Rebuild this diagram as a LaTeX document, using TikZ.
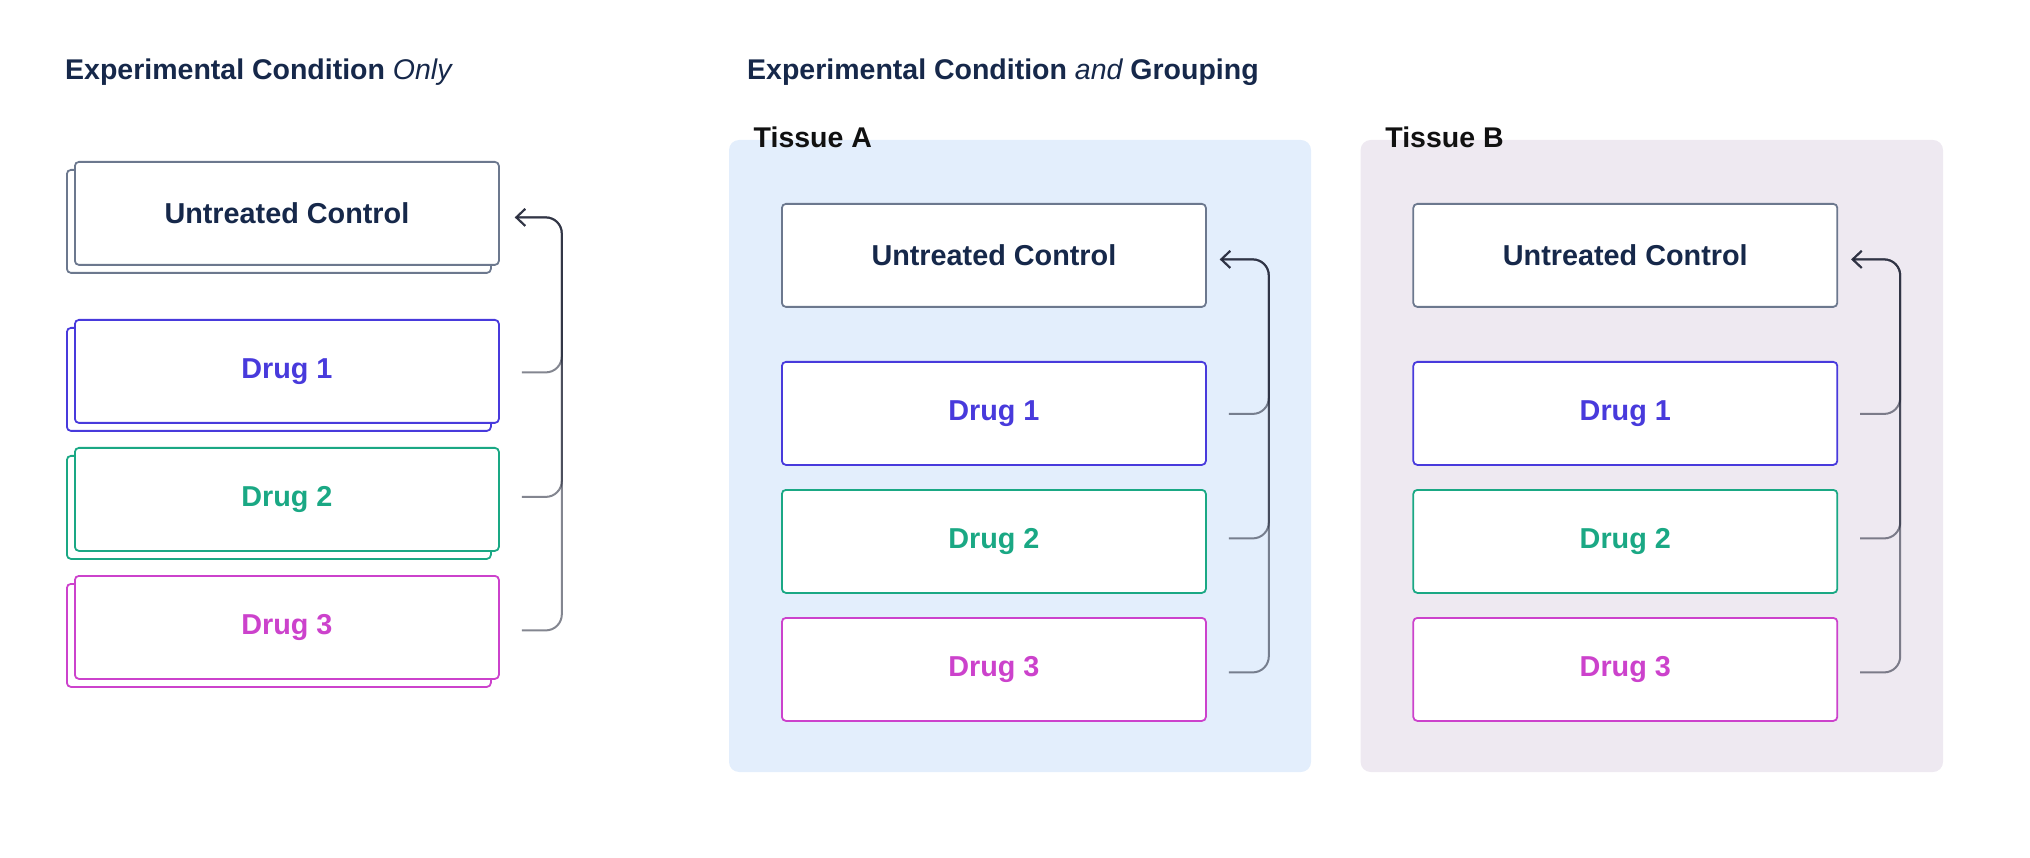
\documentclass[tikz,border=0pt]{standalone}
\usepackage{fontspec}
\setmainfont{Liberation Sans}
\usetikzlibrary{arrows.meta}
\definecolor{navy}{RGB}{22,40,74}
\definecolor{slate}{RGB}{108,120,142}
\definecolor{dblue}{RGB}{72,58,220}
\definecolor{dgreen}{RGB}{26,168,132}
\definecolor{dpink}{RGB}{204,66,204}
\definecolor{tissA}{RGB}{227,238,252}
\definecolor{tissB}{RGB}{238,233,241}
\definecolor{conn}{RGB}{30,34,52}
\definecolor{labelblack}{RGB}{17,17,17}
\begin{document}
\begin{tikzpicture}[x=1pt,y=-1pt,
  card/.style={draw=#1, text=#1, line width=1.8pt, fill=white, rounded corners=4pt,
    minimum width=424pt, minimum height=103pt, inner sep=0pt, anchor=north west,
    font=\fontsize{28.8}{30}\selectfont\bfseries},
  ctrl/.style={card=slate, text=navy},
  title/.style={anchor=base west, text=navy, inner sep=0pt, font=\fontsize{28.5}{30}\selectfont\bfseries},
  tlabel/.style={anchor=base west, text=labelblack, inner sep=0pt, font=\fontsize{28.5}{30}\selectfont\bfseries},
  panel/.style={rounded corners=10pt},
  wire/.style={draw=conn, draw opacity=0.55, line width=2pt, rounded corners=16pt,
    arrows={-Straight Barb[length=9pt,width=17pt]}}
]
\useasboundingbox (0,0) rectangle (2030,858);

% ---------- titles ----------
\node[title] (title1) at (65,80) {Experimental Condition {\mdseries\itshape Only}};
\node[title] (title2) at (747,80) {Experimental Condition {\mdseries\itshape and} Grouping};

% ---------- left column (stacked cards) ----------
\node[card=slate] (lucb) at (66,169) {};
\node[ctrl] (luc) at (74,161) {Untreated Control};
\node[card=dblue] (ld1b) at (66,327) {};
\node[card=dblue] (ld1) at (74,319) {Drug 1};
\node[card=dgreen] (ld2b) at (66,455) {};
\node[card=dgreen] (ld2) at (74,447) {Drug 2};
\node[card=dpink] (ld3b) at (66,583) {};
\node[card=dpink] (ld3) at (74,575) {Drug 3};

\draw[wire] ([xshift=22pt,yshift=-1pt]ld1.east) -| ([xshift=62pt,yshift=-4pt]luc.east) -- ([xshift=15pt,yshift=-4pt]luc.east);
\draw[wire] ([xshift=22pt,yshift=2.5pt]ld2.east) -| ([xshift=62pt,yshift=-4pt]luc.east) -- ([xshift=15pt,yshift=-4pt]luc.east);
\draw[wire] ([xshift=22pt,yshift=-3pt]ld3.east) -| ([xshift=62pt,yshift=-4pt]luc.east) -- ([xshift=15pt,yshift=-4pt]luc.east);

% ---------- Tissue A ----------
\fill[tissA, panel] (729,140) rectangle (1311,772);
\node[tlabel] (tA) at (753.5,147.6) {Tissue A};
\node[ctrl] (auc) at (781,203) {Untreated Control};
\node[card=dblue] (ad1) at (781,361) {Drug 1};
\node[card=dgreen] (ad2) at (781,489) {Drug 2};
\node[card=dpink] (ad3) at (781,617) {Drug 3};

\draw[wire] ([xshift=22pt,yshift=-0.5pt]ad1.east) -| ([xshift=62pt,yshift=-4pt]auc.east) -- ([xshift=13pt,yshift=-4pt]auc.east);
\draw[wire] ([xshift=22pt,yshift=3pt]ad2.east) -| ([xshift=62pt,yshift=-4pt]auc.east) -- ([xshift=13pt,yshift=-4pt]auc.east);
\draw[wire] ([xshift=22pt,yshift=-3pt]ad3.east) -| ([xshift=62pt,yshift=-4pt]auc.east) -- ([xshift=13pt,yshift=-4pt]auc.east);

% ---------- Tissue B ----------
\fill[tissB, panel] (1360.6,140) rectangle (1943,772);
\node[tlabel] (tB) at (1385.2,147.6) {Tissue B};
\node[ctrl] (buc) at (1412.4,203) {Untreated Control};
\node[card=dblue] (bd1) at (1412.4,361) {Drug 1};
\node[card=dgreen] (bd2) at (1412.4,489) {Drug 2};
\node[card=dpink] (bd3) at (1412.4,617) {Drug 3};

\draw[wire] ([xshift=22pt,yshift=-0.5pt]bd1.east) -| ([xshift=62pt,yshift=-4pt]buc.east) -- ([xshift=13pt,yshift=-4pt]buc.east);
\draw[wire] ([xshift=22pt,yshift=3pt]bd2.east) -| ([xshift=62pt,yshift=-4pt]buc.east) -- ([xshift=13pt,yshift=-4pt]buc.east);
\draw[wire] ([xshift=22pt,yshift=-3pt]bd3.east) -| ([xshift=62pt,yshift=-4pt]buc.east) -- ([xshift=13pt,yshift=-4pt]buc.east);
\end{tikzpicture}
\end{document}
